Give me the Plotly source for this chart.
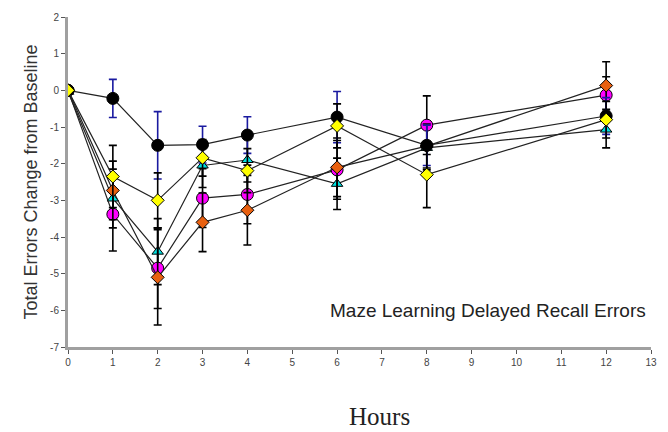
import plotly.graph_objects as go

hours = [0, 1, 2, 3, 4, 6, 8, 12]

black_vals = [0, -0.22, -1.5, -1.48, -1.22, -0.73, -1.5, -0.7]
black_err = [0, 0.52, 0.92, 0.5, 0.5, 0.7, 0.55, 0.5]

yellow_vals = [0, -2.35, -3.0, -1.84, -2.19, -0.97, -2.3, -0.8]
yellow_err = [0, 0.85, 0.75, 0.5, 0.6, 0.6, 0.9, 0.5]

orange_vals = [0, -2.73, -5.1, -3.6, -3.27, -2.1, -1.52, 0.13]
orange_err = [0, 0.8, 1.3, 0.8, 0.95, 0.8, 0.6, 0.65]

cyan_vals = [-0.04, -2.95, -4.4, -2.05, -1.9, -2.55, -1.57, -1.07]
cyan_err = [0, 0.8, 0.9, 0.6, 0.6, 0.7, 0.6, 0.5]

magenta_vals = [0, -3.38, -4.85, -2.94, -2.84, -2.17, -0.95, -0.13]
magenta_err = [0, 1.0, 1.1, 0.8, 0.8, 0.8, 0.8, 0.5]

x_ticks = list(range(0, 14))
y_ticks = list(range(-7, 3))
y_tick_text = [str(v) for v in y_ticks]  # plain hyphen minus

fig = go.Figure()

def add(vals, err, color, symbol, size, ecolor):
    fig.add_trace(go.Scatter(
        x=hours, y=vals, mode="lines+markers",
        line=dict(color="#222222", width=1.2),
        marker=dict(color=color, symbol=symbol, size=size,
                    line=dict(color="#000000", width=1)),
        error_y=dict(type="data", array=err, visible=True,
                     color=ecolor, thickness=1.6, width=4),
        showlegend=False,
    ))

add(cyan_vals, cyan_err, "#00e0e0", "triangle-up", 10, "#000000")
add(magenta_vals, magenta_err, "#ff00ff", "circle", 12, "#000000")
add(orange_vals, orange_err, "#e86010", "diamond", 10, "#000000")
add(black_vals, black_err, "#000000", "circle", 12, "#1a1aa0")
add(yellow_vals, yellow_err, "#ffff00", "diamond", 10, "#000000")

fig.update_layout(
    width=668, height=432,
    margin=dict(l=68, r=11, t=13, b=85),
    paper_bgcolor="white", plot_bgcolor="white",
    font=dict(family="Arial, Liberation Sans, sans-serif", size=10, color="#333333"),
    xaxis=dict(range=[0, 13], tickvals=x_ticks, showgrid=False, zeroline=False,
               showline=True, linecolor="#a0a0a0", linewidth=2.5,
               ticks="outside", ticklen=4, tickcolor="#555555", tickwidth=1,
               tickfont=dict(size=10, color="#444444")),
    yaxis=dict(range=[-7, 2], tickvals=y_ticks, ticktext=y_tick_text,
               showgrid=False, zeroline=False,
               showline=True, linecolor="#a0a0a0", linewidth=3,
               ticks="outside", ticklen=4, tickcolor="#555555", tickwidth=1,
               tickfont=dict(size=10, color="#444444"),
               title=dict(text="Total Errors Change from Baseline",
                          font=dict(size=18, color="#333333"), standoff=8)),
    annotations=[
        dict(text="Maze Learning Delayed Recall Errors", x=12.94, y=-6.0,
             xref="x", yref="y", xanchor="right", yanchor="middle",
             showarrow=False, font=dict(size=19, color="#222222")),
        dict(text="Hours", x=0.535, y=-0.21, xref="paper", yref="paper",
             xanchor="center", yanchor="middle", showarrow=False,
             font=dict(family="Liberation Serif, Times New Roman, serif", size=25, color="#222222")),
    ],
)

fig.write_html("out.html")
